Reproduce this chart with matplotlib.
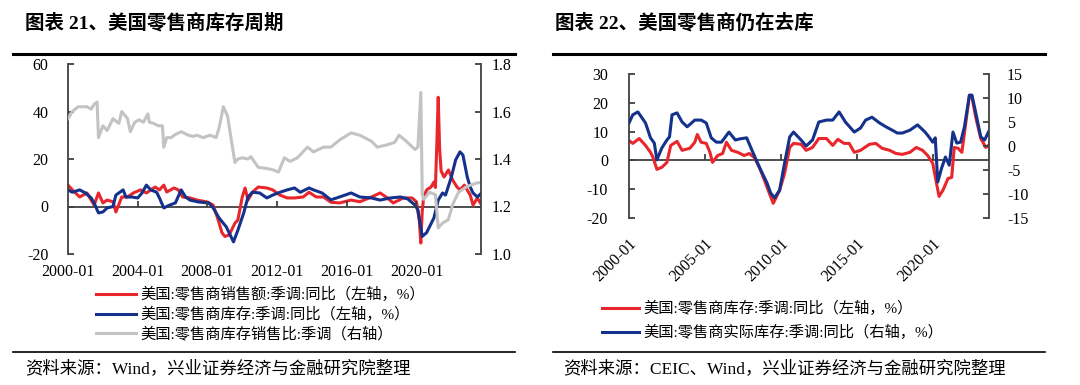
import matplotlib

matplotlib.use("Agg")

import matplotlib.pyplot as plt
import pandas as pd
from matplotlib.lines import Line2D

# ---- chart 21: US retail inventory cycle ----
sales_dates = [
    "2000-01", "2000-04", "2000-09", "2001-02", "2001-07", "2001-10", "2002-01", "2002-04",
    "2002-08", "2002-10", "2003-02", "2003-06", "2003-10", "2004-03", "2004-07", "2005-01",
    "2005-04", "2005-07", "2005-09", "2006-02", "2006-05", "2006-08", "2007-01", "2007-06",
    "2008-01", "2008-05", "2008-08", "2008-11", "2009-01", "2009-04", "2009-08", "2009-10",
    "2010-01", "2010-03", "2010-05", "2010-08", "2010-12", "2011-06", "2011-10", "2012-03",
    "2012-08", "2013-01", "2013-07", "2013-11", "2014-04", "2014-09", "2015-02", "2015-08",
    "2016-04", "2016-10", "2017-06", "2017-12", "2018-05", "2018-09", "2019-04", "2019-10",
    "2020-01", "2020-03", "2020-04", "2020-05", "2020-06", "2020-08", "2020-11", "2021-01",
    "2021-02", "2021-03", "2021-04", "2021-05", "2021-06", "2021-08", "2021-11", "2022-02",
    "2022-05", "2022-07", "2022-10", "2023-02", "2023-04", "2023-07", "2023-09",
]
sales_yoy = [
    9.0, 7.0, 4.0, 5.7, 0.6, 5.7, 1.5, 2.7,
    2.0, -2.3, 4.0, 4.0, 5.7, 7.0, 5.7, 8.2,
    7.0, 9.0, 6.1, 7.8, 7.0, 4.0, 3.6, 2.7,
    1.9, 0.6, -4.8, -11.0, -12.6, -12.0, -7.0, -5.7,
    4.0, 7.8, 2.7, 6.0, 8.2, 7.8, 7.0, 4.8,
    3.6, 3.6, 4.0, 6.0, 4.0, 4.0, 1.8, 1.5,
    2.7, 2.0, 4.0, 5.7, 3.6, 1.5, 3.6, 3.6,
    2.0, -6.0, -15.4, -2.0, 4.0, 7.0, 8.2, 10.3,
    8.0, 25.0, 46.0, 24.0, 15.0, 12.4, 15.4, 11.0,
    8.2, 7.0, 9.0, 4.8, 0.6, 3.6, 1.5,
]

inv_dates = [
    "2000-01", "2000-04", "2000-09", "2001-01", "2001-05", "2001-07", "2001-10", "2002-01",
    "2002-04", "2002-08", "2002-10", "2003-03", "2003-05", "2003-09", "2004-01", "2004-04",
    "2004-07", "2004-10", "2005-02", "2005-04", "2005-07", "2005-11", "2006-03", "2006-07",
    "2006-10", "2007-01", "2007-07", "2008-02", "2008-05", "2008-09", "2009-02", "2009-07",
    "2009-10", "2010-02", "2010-05", "2010-08", "2011-01", "2011-06", "2011-10", "2012-03",
    "2012-08", "2013-01", "2013-05", "2013-11", "2014-02", "2014-08", "2015-02", "2015-08",
    "2016-04", "2016-10", "2017-06", "2017-12", "2018-07", "2019-02", "2019-07", "2019-12",
    "2020-02", "2020-05", "2020-08", "2021-01", "2021-04", "2021-07", "2021-09", "2022-01",
    "2022-04", "2022-07", "2022-09", "2022-12", "2023-02", "2023-04", "2023-07", "2023-09",
]
inv_yoy = [
    7.0, 6.0, 7.0, 5.7, 3.6, 1.5, -2.7, -2.3,
    -0.6, 0.0, 4.8, 7.0, 4.0, 4.0, 3.6, 5.7,
    9.0, 7.0, 6.0, 3.6, -0.6, 0.6, 1.5, 7.0,
    4.0, 2.7, 1.9, 1.5, -0.6, -4.8, -8.6, -14.9,
    -10.0, -2.7, 4.0, 6.0, 5.7, 3.6, 4.8, 6.0,
    7.0, 7.8, 6.0, 7.8, 7.0, 5.7, 2.8, 4.0,
    5.7, 4.0, 3.6, 2.7, 3.6, 4.0, 3.2, 0.6,
    -1.5, -12.6, -11.0, -4.8, 2.7, 5.7, 4.8, 12.4,
    19.6, 23.0, 21.7, 12.4, 8.2, 5.7, 4.0, 5.2,
]

ratio_dates = [
    "2000-01", "2000-04", "2000-08", "2001-02", "2001-05", "2001-07", "2001-09", "2001-10",
    "2002-01", "2002-04", "2002-08", "2002-12", "2003-02", "2003-06", "2003-08", "2003-11",
    "2004-02", "2004-05", "2004-08", "2004-09", "2004-12", "2005-03", "2005-06", "2005-07",
    "2005-09", "2005-12", "2006-02", "2006-07", "2006-12", "2007-03", "2007-06", "2007-10",
    "2008-03", "2008-07", "2008-09", "2008-12", "2009-03", "2009-05", "2009-08", "2009-10",
    "2010-01", "2010-05", "2010-07", "2010-12", "2011-06", "2011-10", "2012-02", "2012-06",
    "2012-10", "2013-03", "2013-10", "2014-02", "2014-09", "2015-02", "2015-08", "2016-04",
    "2016-10", "2017-06", "2017-10", "2018-05", "2018-10", "2019-01", "2019-06", "2019-12",
    "2020-02", "2020-04", "2020-05", "2020-06", "2020-10", "2021-02", "2021-04", "2021-07",
    "2021-11", "2022-02", "2022-06", "2022-12", "2023-07", "2023-09",
]
inv_sales_ratio = [
    1.57, 1.60, 1.62, 1.62, 1.61, 1.63, 1.64, 1.49,
    1.54, 1.52, 1.57, 1.55, 1.60, 1.57, 1.515, 1.555,
    1.565, 1.555, 1.59, 1.555, 1.55, 1.54, 1.54, 1.45,
    1.49, 1.49, 1.50, 1.515, 1.50, 1.495, 1.50, 1.49,
    1.50, 1.49, 1.53, 1.62, 1.58, 1.50, 1.385, 1.40,
    1.405, 1.40, 1.41, 1.365, 1.36, 1.355, 1.345, 1.405,
    1.39, 1.405, 1.45, 1.43, 1.45, 1.45, 1.48, 1.51,
    1.50, 1.475, 1.45, 1.46, 1.47, 1.50, 1.475, 1.44,
    1.45, 1.68, 1.25, 1.23, 1.26, 1.25, 1.11, 1.13,
    1.145, 1.21, 1.26, 1.285, 1.30, 1.30,
]

# ---- chart 22: US retailers still destocking ----
nominal_dates = [
    "2000-01", "2000-04", "2000-09", "2001-02", "2001-06", "2001-08", "2001-11", "2002-03",
    "2002-07", "2002-10", "2003-03", "2003-07", "2004-01", "2004-05", "2004-07", "2004-10",
    "2005-02", "2005-05", "2005-07", "2005-11", "2006-03", "2006-06", "2006-10", "2007-03",
    "2007-08", "2007-12", "2008-04", "2008-08", "2008-12", "2009-04", "2009-07", "2009-12",
    "2010-04", "2010-08", "2010-11", "2011-05", "2011-09", "2012-02", "2012-07", "2013-01",
    "2013-06", "2013-10", "2014-03", "2014-07", "2014-11", "2015-04", "2015-11", "2016-04",
    "2016-09", "2017-03", "2017-08", "2018-01", "2018-07", "2018-12", "2019-05", "2019-09",
    "2020-01", "2020-04", "2020-06", "2020-09", "2021-01", "2021-04", "2021-06", "2021-09",
    "2021-12", "2022-02", "2022-06", "2022-08", "2022-11", "2023-03", "2023-07", "2023-09",
]
nominal_inv_yoy = [
    6.9, 5.9, 7.6, 5.2, 2.8, 1.0, -3.1, -2.4,
    -0.7, 5.2, 6.6, 3.5, 4.2, 6.3, 9.0, 6.3,
    5.9, 2.8, -0.7, 1.7, 2.4, 6.3, 3.5, 2.8,
    1.7, 2.4, 1.0, -2.4, -6.9, -11.5, -14.9, -10.4,
    -4.5, 4.5, 5.9, 5.6, 3.5, 4.5, 7.6, 7.6,
    5.2, 7.3, 5.9, 5.9, 2.8, 3.5, 5.6, 5.9,
    4.2, 3.5, 2.4, 2.1, 2.8, 4.5, 3.5, 1.7,
    -1.0, -8.0, -12.5, -10.4, -6.3, -5.9, 4.5, 4.2,
    2.8, 9.4, 22.6, 21.9, 14.9, 7.6, 4.5, 5.2,
]

real_dates = [
    "2000-01", "2000-04", "2000-08", "2001-02", "2001-06", "2001-09", "2001-11", "2002-03",
    "2002-07", "2002-09", "2002-11", "2003-03", "2003-07", "2003-11", "2004-05", "2004-10",
    "2005-02", "2005-06", "2005-10", "2006-02", "2006-08", "2007-01", "2007-05", "2007-10",
    "2008-02", "2008-08", "2009-02", "2009-05", "2009-08", "2009-12", "2010-04", "2010-08",
    "2010-11", "2011-05", "2011-09", "2012-02", "2012-07", "2013-01", "2013-06", "2013-11",
    "2014-04", "2014-11", "2015-04", "2015-08", "2016-01", "2016-07", "2016-12", "2017-05",
    "2017-09", "2018-01", "2018-07", "2019-01", "2019-07", "2019-10", "2020-01", "2020-03",
    "2020-05", "2020-08", "2020-11", "2021-02", "2021-05", "2021-08", "2021-11", "2022-02",
    "2022-06", "2022-08", "2022-11", "2023-03", "2023-06", "2023-09",
]
real_inv_yoy = [
    4.8, 6.5, 7.1, 4.8, 1.7, 0.6, -2.9, -0.4,
    1.25, 1.9, 6.5, 6.9, 5.0, 4.0, 5.4, 5.4,
    4.8, 1.7, 0.8, 0.8, 2.9, 1.25, 1.5, 1.7,
    -0.8, -4.4, -7.7, -9.8, -10.8, -9.2, -3.5, 1.9,
    2.9, 1.25, 0.0, 1.25, 5.0, 5.4, 5.4, 7.1,
    5.0, 2.9, 3.75, 5.4, 6.0, 4.8, 4.0, 3.3,
    2.7, 2.7, 3.3, 4.4, 2.9, 1.9, 0.8, 1.7,
    -7.5, -4.6, -2.3, -4.0, 2.9, 0.6, 0.8, 4.0,
    10.6, 10.6, 6.9, 1.9, 1.25, 2.9,
]

left_xticks = ["2000-01", "2004-01", "2008-01", "2012-01", "2016-01", "2020-01"]
right_xticks = ["2000-01", "2005-01", "2010-01", "2015-01", "2020-01"]

RED = "#e8262b"
BLUE = "#14318c"
GREY = "#c3c3c3"
AXIS = "#404040"
FONT = ["Liberation Serif", "Noto Sans CJK SC"]

plt.rcParams["font.family"] = FONT
plt.rcParams["font.size"] = 11
plt.rcParams["axes.unicode_minus"] = False

W, H = 1080, 385


def fx(x):
    return x / W


def fy(y):
    return 1 - y / H


def style_axis(ax, side, pad):
    for name in ("top", "bottom"):
        ax.spines[name].set_visible(False)
    for name in ("left", "right"):
        ax.spines[name].set_visible(name == side)
    ax.spines[side].set_color(AXIS)
    ax.spines[side].set_linewidth(1.3)
    ax.tick_params(axis="y", direction="in", length=4, width=1.3, color=AXIS,
                   pad=pad, labelsize=11.5, left=(side == "left"), right=(side == "right"),
                   labelleft=(side == "left"), labelright=(side == "right"))
    ax.patch.set_visible(False)


def dates(values):
    return pd.to_datetime(values, format="%Y-%m")


xmin, xmax = pd.Timestamp("2000-01-01"), pd.Timestamp("2023-09-15")

fig = plt.figure(figsize=(W / 100, H / 100), dpi=100)

# ---------------- left chart ----------------
ax1 = fig.add_axes([fx(68), fy(254), fx(413), 190 / H])
ax2 = ax1.twinx()
ax1.plot(dates(sales_dates), sales_yoy, color=RED, lw=2.2, label="美国:零售商销售额:季调:同比（左轴，%）")
ax1.plot(dates(inv_dates), inv_yoy, color=BLUE, lw=2.2, label="美国:零售商库存:季调:同比（左轴，%）")
ax2.plot(dates(ratio_dates), inv_sales_ratio, color=GREY, lw=2.2, label="美国:零售商库存销售比:季调（右轴）")

ax1.set_xlim(xmin, xmax)
ax1.set_ylim(-20, 60)
ax1.set_yticks([-20, 0, 20, 40, 60])
ax2.set_ylim(1.0, 1.8)
ax2.set_yticks([1.0, 1.2, 1.4, 1.6, 1.8])
ax2.set_yticklabels([f"{v:.1f}" for v in [1.0, 1.2, 1.4, 1.6, 1.8]])
style_axis(ax1, "left", 14)
style_axis(ax2, "right", 8)

ax1.axhline(0, color=AXIS, lw=1.3, zorder=1)
ax1.plot(dates(left_xticks[1:]), [0] * (len(left_xticks) - 1), ls="none", marker=2,
         ms=4, mew=1.3, color=AXIS)
ax1.set_xticks(dates(left_xticks))
ax1.set_xticklabels(left_xticks)
ax1.tick_params(axis="x", length=0, pad=7, labelsize=11.5)

h1, l1 = ax1.get_legend_handles_labels()
h2, l2 = ax2.get_legend_handles_labels()
fig.legend(h1 + h2, l1 + l2, loc="upper left", bbox_to_anchor=(fx(96), fy(287)),
           frameon=False, fontsize=11, handlelength=2.6, handletextpad=0.3,
           labelspacing=0.3, borderpad=0, borderaxespad=0)

# ---------------- right chart ----------------
ax3 = fig.add_axes([fx(629), fy(218), fx(360), 144 / H])
ax4 = ax3.twinx()
ax3.plot(dates(nominal_dates), nominal_inv_yoy, color=RED, lw=2.2, label="美国:零售商库存:季调:同比（左轴，%）")
ax4.plot(dates(real_dates), real_inv_yoy, color=BLUE, lw=2.2, label="美国:零售商实际库存:季调:同比（右轴，%）")

ax3.set_xlim(xmin, xmax)
ax3.set_ylim(-20, 30)
ax3.set_yticks(range(-20, 31, 10))
ax4.set_ylim(-15, 15)
ax4.set_yticks(range(-15, 16, 5))
style_axis(ax3, "left", 15)
style_axis(ax4, "right", 13)

ax3.axhline(0, color=AXIS, lw=1.3, zorder=1)
ax3.plot(dates(right_xticks[1:]), [0] * (len(right_xticks) - 1), ls="none", marker=2,
         ms=4, mew=1.3, color=AXIS)
ax3.set_xticks(dates(right_xticks))
ax3.set_xticklabels(right_xticks, rotation=45, ha="right", rotation_mode="anchor")
ax3.tick_params(axis="x", length=0, pad=13, labelsize=11.5)

h3, l3 = ax3.get_legend_handles_labels()
h4, l4 = ax4.get_legend_handles_labels()
fig.legend(h3 + h4, l3 + l4, loc="upper left", bbox_to_anchor=(fx(602), fy(301)),
           frameon=False, fontsize=11, handlelength=2.4, handletextpad=0.3,
           labelspacing=0.55, borderpad=0, borderaxespad=0)

# ---------------- titles, rules, sources ----------------
fig.text(fx(25), fy(23), "图表 21、美国零售商库存周期", fontsize=14, fontweight="bold",
         va="center", ha="left", family=FONT)
fig.text(fx(555), fy(23), "图表 22、美国零售商仍在去库", fontsize=14, fontweight="bold",
         va="center", ha="left", family=FONT)

for x0, x1 in ((13, 515), (553, 1045)):
    fig.add_artist(Line2D([fx(x0), fx(x1)], [fy(54), fy(54)], color="black", lw=2.2,
                          transform=fig.transFigure))
    fig.add_artist(Line2D([fx(x0), fx(x1)], [fy(352), fy(352)], color="black", lw=1.2,
                          transform=fig.transFigure))

fig.text(fx(25), fy(369), "资料来源：Wind，兴业证券经济与金融研究院整理", fontsize=12.5,
         va="center", ha="left")
fig.text(fx(563), fy(369), "资料来源：CEIC、Wind，兴业证券经济与金融研究院整理", fontsize=12.5,
         va="center", ha="left")

fig.savefig("out.png", dpi=100)
plt.close(fig)
